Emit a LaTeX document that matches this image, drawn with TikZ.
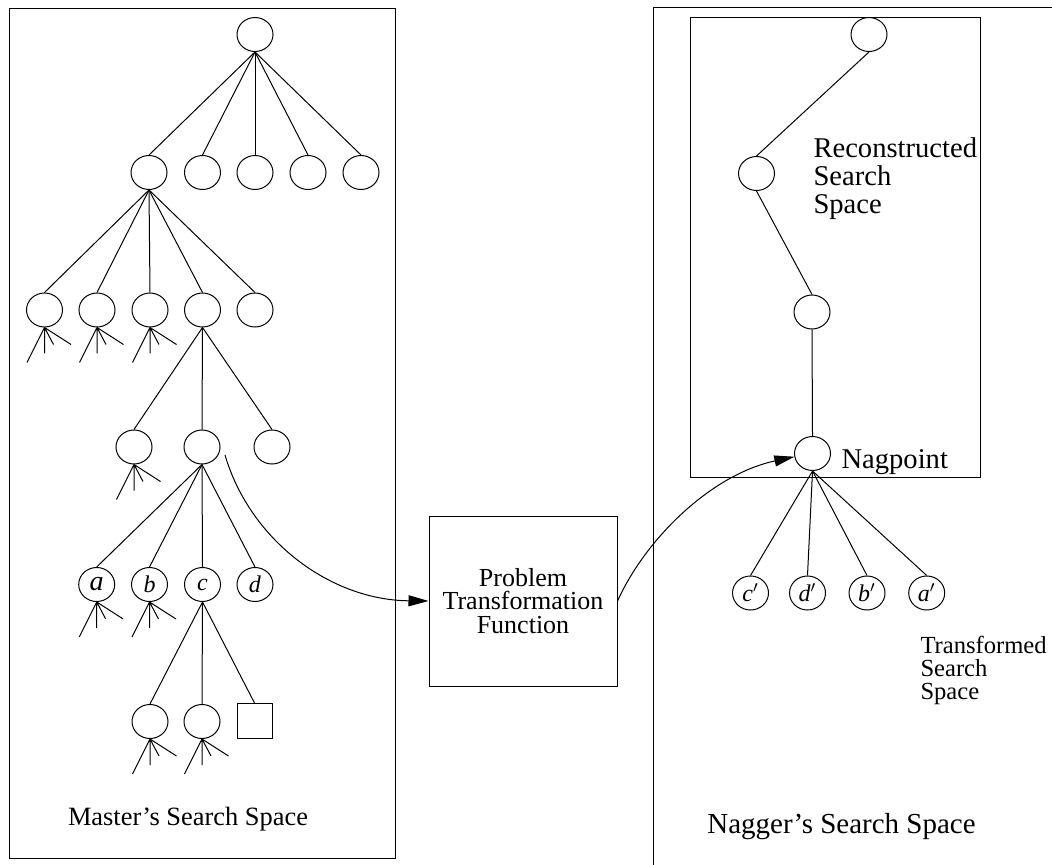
\documentclass[tikz,border=0pt]{standalone}
\usepackage{fontspec}
\setmainfont{Liberation Serif}
\usetikzlibrary{arrows.meta, shapes.geometric}

\begin{document}
\begin{tikzpicture}[x=0.5pt, y=-0.5pt, line width=0.5pt,
    every node/.style={font=\fontsize{14.3}{14}\selectfont, inner sep=0pt},
    state/.style={draw, ellipse, minimum width=18pt, minimum height=17pt},
    leaf/.style={draw, minimum size=17.5pt},
    hop/.style={-{Triangle[length=10pt, width=5.5pt]}}]
    \useasboundingbox (0,0) rectangle (1052,865);
    \clip (0,0) rectangle (1052,865);

    % Frames
    \draw (9,9) rectangle (395,858);
    \draw (653,8) rectangle (1100,900);
    \draw (690,18) rectangle (980,477);

    % Master's tree
    \node[state] (root) at (255,34.5) {};
    \foreach \x [count=\i] in {149,202.5,255,308,361}
        \node[state] (m\i) at (\x,172.5) {};
    \foreach \x [count=\i] in {44.5,97,150,202.5,255}
        \node[state] (n\i) at (\x,310) {};
    \foreach \x [count=\i] in {134,202,272}
        \node[state] (p\i) at (\x,447) {};
    \node[state, font=\fontsize{14}{14}\selectfont] (qa) at (96.7,584.5) {\textit{a}};
    \node[state, font=\fontsize{12}{12}\selectfont] (qb) at (149.5,584.5) {\textit{b}};
    \node[state, font=\fontsize{12}{12}\selectfont] (qc) at (202.5,584.5) {\textit{c}};
    \node[state, font=\fontsize{12}{12}\selectfont] (qd) at (255,584.5) {\textit{d}};
    \node[state] (s1) at (150,721.5) {};
    \node[state] (s2) at (202,721.5) {};
    \node[leaf] (s3) at (254.5,721) {};

    \foreach \i in {1,...,5} \draw (root.south) -- (m\i.north);
    \foreach \i in {1,...,5} \draw (m1.south) -- (n\i.north);
    \foreach \i in {1,2,3} \draw (n4.south) -- (p\i.north);
    \foreach \q in {qa,qb,qc,qd} \draw (p2.south) -- (\q.north);
    \foreach \s in {s1,s2,s3} \draw (qc.south) -- (\s.north);

    % Unexpanded subtrees
    \foreach \n in {n1,n2,n3,p1,qa,qb,s1,s2}
        \draw (\n.south) -- ++(-17.5,35) (\n.south) -- ++(0,26)
              (\n.south) -- ++(9,17) (\n.south) -- ++(26.5,17);

    % Nagger's tree
    \node[state] (r1) at (869,34.5) {};
    \node[state] (r2) at (756.5,173.5) {};
    \node[state] (r3) at (812,312) {};
    \node[state] (nag) at (812.5,453.5) {};
    \foreach \x/\t [count=\i] in {750.5/c,807.5/d,867/b,926.7/a}
        \node[state, font=\fontsize{12}{12}\selectfont] (t\i) at (\x,593) {\textit{\t}$'$};
    \draw (r1.south) -- (r2.north);
    \draw (r2.south) -- (r3.north);
    \draw (r3.south) -- (nag.north);
    \foreach \i in {1,...,4} \draw (nag.south) -- (t\i.north);

    % Transformation
    \node[draw, minimum width=94pt, minimum height=85pt, align=center,
          font=\fontsize{13}{11.6}\selectfont] (ptf) at (523,601)
          {Problem\\Transformation\\Function};
    \coordinate (pick) at (225,455);
    \draw[hop] (pick) .. controls (250,540) and (330,600) .. (ptf.west);
    \draw[hop] (ptf.east) .. controls (645,540) and (710,475) .. (nag.190);

    % Labels
    \node[anchor=base west] (nagtxt) at (841,468) {Nagpoint};
    \node[anchor=north west, align=left] (rectxt) at (813,137)
        {Reconstructed\\Search\\Space};
    \node[anchor=north west, align=left, font=\fontsize{12.3}{11.3}\selectfont]
        (trtxt) at (920,636) {Transformed\\Search\\Space};
    \node[anchor=base, font=\fontsize{13.2}{14}\selectfont] (mtxt) at (188,825)
        {Master’s Search Space};
    \node[anchor=base, font=\fontsize{14.5}{14}\selectfont] (ntxt) at (841.5,833)
        {Nagger’s Search Space};
\end{tikzpicture}
\end{document}
